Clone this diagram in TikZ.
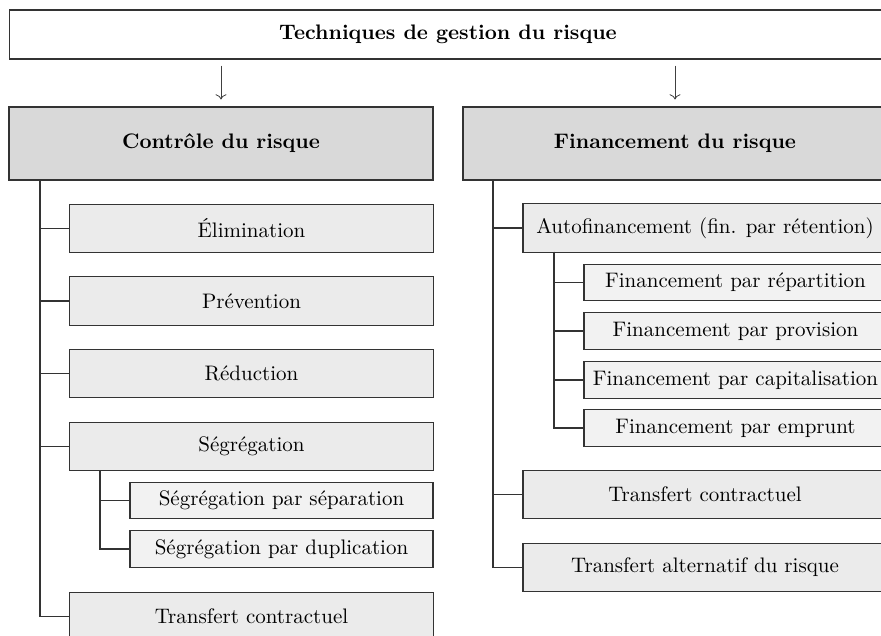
\documentclass[tikz,border=0pt]{standalone}
\usetikzlibrary{arrows.meta}
% one drawing unit in points
\def\u{0.476}
\begin{document}
\begin{tikzpicture}[x=\u pt, y=-\u pt,
  box/.style={draw=black!80, line width=0.5pt, rectangle, inner sep=0pt, align=center},
  topbox/.style={box, fill=white, font=\bfseries, minimum width={877*\u pt}, minimum height={49*\u pt}},
  headbox/.style={box, fill=black!15, font=\bfseries, minimum width={424*\u pt}, minimum height={73*\u pt}},
  itembox/.style={box, fill=black!8, minimum width={364*\u pt}, minimum height={48.5*\u pt}},
  subbox/.style={box, fill=black!5, minimum width={303*\u pt}, minimum height={36.5*\u pt}},
  link/.style={draw=black!80, line width=0.5pt},
  down/.style={draw=black!75, line width=0.4pt, ->, shorten <={6*\u pt}, shorten >={7*\u pt}}]
\useasboundingbox (0,0) rectangle (881,636);
\clip (0,0) rectangle (881,636);

% root
\node[topbox] (root) at (448,34.5) {Techniques de gestion du risque};

% two main branches
\node[headbox] (ctrl) at (221,143.5) {Contrôle du risque};
\node[headbox] (fin)  at (675,143.5) {Financement du risque};

\draw[down] (root.south -| ctrl.north) -- (ctrl.north);
\draw[down] (root.south -| fin.north) -- (fin.north);

% risk control
\node[itembox] (elim) at (251.5,228.5) {Élimination};
\node[itembox] (prev) at (251.5,301) {Prévention};
\node[itembox] (redu) at (251.5,373.5) {Réduction};
\node[itembox] (segr) at (251.5,446.5) {Ségrégation};
\node[subbox]  (sep)  at (281.5,500.5) {Ségrégation par séparation};
\node[subbox]  (dup)  at (281.5,549) {Ségrégation par duplication};
\node[itembox] (trcL) at (251.5,616.5) {Transfert contractuel};

\coordinate (tl) at (40,180);
\coordinate (ts) at (100,471);
\draw[link] (tl) |- (elim.west);
\draw[link] (tl) |- (prev.west);
\draw[link] (tl) |- (redu.west);
\draw[link] (tl) |- (segr.west);
\draw[link] (tl) |- (trcL.west);
\draw[link] (ts) |- (sep.west);
\draw[link] (ts) |- (dup.west);

% risk financing
\node[itembox] (auto) at (705,228) {Autofinancement (fin. par rétention)};
\node[subbox]  (rep)  at (735.5,282.5) {Financement par répartition};
\node[subbox]  (prov) at (735.5,331) {Financement par provision};
\node[subbox]  (capi) at (735.5,380) {Financement par capitalisation};
\node[subbox]  (empr) at (735.5,428) {Financement par emprunt};
\node[itembox] (trcR) at (705,494.5) {Transfert contractuel};
\node[itembox] (alt)  at (705,567.5) {Transfert alternatif du risque};

\coordinate (tr) at (493,180);
\coordinate (ta) at (554,252);
\draw[link] (tr) |- (auto.west);
\draw[link] (tr) |- (trcR.west);
\draw[link] (tr) |- (alt.west);
\draw[link] (ta) |- (rep.west);
\draw[link] (ta) |- (prov.west);
\draw[link] (ta) |- (capi.west);
\draw[link] (ta) |- (empr.west);
\end{tikzpicture}
\end{document}
